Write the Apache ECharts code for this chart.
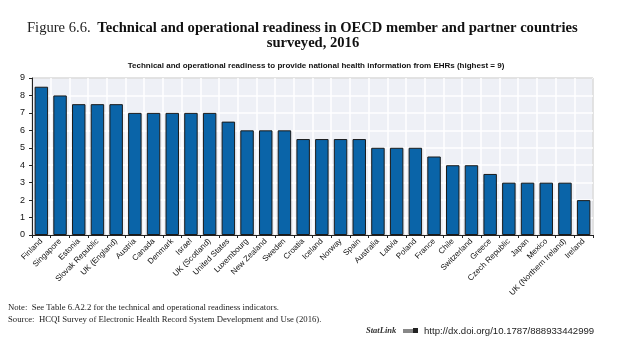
<!DOCTYPE html>
<html><head><meta charset="utf-8">
<script src="https://cdn.jsdelivr.net/npm/echarts@6/dist/echarts.min.js"></script>
<style>html,body{margin:0;padding:0;background:#fff}#c{width:640px;height:355px}</style>
</head><body><div id="c"></div>
<script>
const countries = ["Finland","Singapore","Estonia","Slovak Republic","UK (England)","Austria","Canada","Denmark","Israel","UK (Scotland)","United States","Luxembourg","New Zealand","Sweden","Croatia","Iceland","Norway","Spain","Australia","Latvia","Poland","France","Chile","Switzerland","Greece","Czech Republic","Japan","Mexico","UK (Northern Ireland)","Ireland"];
const readiness = [8.5,8,7.5,7.5,7.5,7,7,7,7,7,6.5,6,6,6,5.5,5.5,5.5,5.5,5,5,5,4.5,4,4,3.5,3,3,3,3,2];
const yTicks = [0,1,2,3,4,5,6,7,8,9];

const chart = echarts.init(document.getElementById('c'), null, {renderer:'canvas'});
const serif = '"Liberation Serif", "DejaVu Serif", serif';
const narrow = '"Liberation Sans Narrow","Liberation Sans",Arial,sans-serif';
function txt(x, y, text, style, align){
  return {type:'text', x:x, y:y, style:Object.assign({text:text, textAlign:align||'left', textVerticalAlign:'middle', fill:'#111'}, style)};
}
chart.setOption({
  animation:false,
  grid:{left:32, right:47, top:78, bottom:120, show:true, backgroundColor:'#eef0f6', borderColor:'#222', borderWidth:1},
  xAxis:{
    type:'category', data:countries,
    axisLine:{lineStyle:{color:'#222'}},
    axisTick:{show:true, alignWithLabel:false, length:3, lineStyle:{color:'#222'}},
    splitLine:{show:true, lineStyle:{color:'#ffffff', width:1.5}},
    axisLabel:{rotate:45, interval:0, margin:5, fontSize:8, color:'#111', fontFamily:narrow}
  },
  yAxis:{
    type:'value', min:0, max:9, interval:1,
    axisLine:{show:true, lineStyle:{color:'#222'}},
    axisTick:{show:true, length:3, lineStyle:{color:'#222'}},
    splitLine:{show:true, lineStyle:{color:'#ffffff', width:1.5}},
    axisLabel:{fontSize:9, color:'#111', margin:7, fontFamily:'"Liberation Sans",Arial,sans-serif',
      formatter:v=>yTicks.includes(v)?String(v):''}
  },
  series:[{
    type:'bar', data:readiness, barWidth:'72%',
    itemStyle:{color:'#0a64a8', borderColor:'#1a1a1a', borderWidth:1}
  }],
  graphic:[
    {type:'text', x:27, y:28, style:{
      text:'{a|Figure 6.6.}  {b|Technical and operational readiness in OECD member and partner countries}',
      textVerticalAlign:'middle',
      rich:{a:{fontFamily:serif,fontSize:14.6,fill:'#222'},b:{fontFamily:serif,fontSize:14.6,fontWeight:'bold',fill:'#111'}}}},
    txt(313, 43, 'surveyed, 2016', {font:'bold 14.6px '+serif}, 'center'),
    txt(316, 66, 'Technical and operational readiness to provide national health information from EHRs (highest = 9)', {font:'bold 8px '+narrow}, 'center'),
    txt(8, 308, 'Note:  See Table 6.A2.2 for the technical and operational readiness indicators.', {font:'8.7px '+serif, fill:'#222'}),
    txt(8, 320, 'Source:  HCQI Survey of Electronic Health Record System Development and Use (2016).', {font:'8.7px '+serif, fill:'#222'}),
    txt(366, 331, 'StatLink', {font:'italic bold 8.5px '+serif, fill:'#333'}),
    {type:'rect', shape:{x:403,y:329,width:10,height:4}, style:{fill:'#888'}},
    {type:'rect', shape:{x:413,y:328,width:5,height:5}, style:{fill:'#222'}},
    txt(424, 331, 'http://dx.doi.org/10.1787/888933442999', {font:'9.6px '+narrow, fill:'#222'})
  ]
});
</script></body></html>
